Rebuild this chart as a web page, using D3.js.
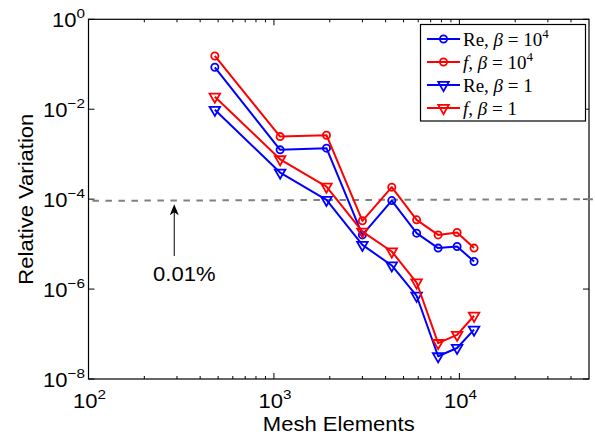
<!DOCTYPE html>
<html>
<head>
<meta charset="utf-8">
<script src="https://cdn.jsdelivr.net/npm/d3@7"></script>
<style>
  html, body { margin: 0; padding: 0; background: #fff; }
  svg { display: block; }
  .sans { font-family: "Liberation Sans", Arial, Helvetica, sans-serif; }
  .serif { font-family: "Liberation Serif", "Times New Roman", serif; }
</style>
</head>
<body>
<svg id="chart" width="595" height="439"></svg>
<script>
// Mesh sizes and relative variation of the computed quantities
const meshElements = [480, 1080, 1920, 3000, 4320, 5880, 7680, 9720, 12000];
const reBeta1e4 = [0.0857, 0.00125, 0.00136, 1.6e-5, 9.3e-5, 1.75e-5, 8.15e-6, 8.85e-6, 4.1e-6];
const fBeta1e4  = [0.153, 0.00246, 0.00264, 3.3e-5, 1.85e-4, 3.47e-5, 1.6e-5, 1.81e-5, 8.15e-6];
const reBeta1   = [0.0097, 3.9e-4, 9.6e-5, 9.6e-6, 3.35e-6, 7.1e-7, 3.2e-8, 4.9e-8, 1.25e-7];
const fBeta1    = [0.019, 7.7e-4, 1.9e-4, 1.9e-5, 6.85e-6, 1.4e-6, 6.3e-8, 9.6e-8, 2.55e-7];

// 0.01% threshold line
const thresholdX = [105, 60000];
const thresholdY = [9.2e-5, 1.0e-4];

const xTickExponents = [2, 3, 4];
const yTickExponents = [0, -2, -4, -6, -8];

const series = [
  { name: "Re", beta: "10", betaExp: "4", values: reBeta1e4, color: "#0000ff", marker: "circle" },
  { name: "f",  beta: "10", betaExp: "4", values: fBeta1e4,  color: "#ff0000", marker: "circle" },
  { name: "Re", beta: "1",  betaExp: "",  values: reBeta1,   color: "#0000ff", marker: "triangle" },
  { name: "f",  beta: "1",  betaExp: "",  values: fBeta1,    color: "#ff0000", marker: "triangle" }
];

const svg = d3.select("#chart");
const plotLeft = 88.5, plotRight = 589, plotTop = 19.3, plotBottom = 379;
const fontSize = 19.5, supSize = 13.5, stretch = 1.13;

const x = d3.scaleLog().domain([100, 50000]).range([plotLeft, plotRight]);
const y = d3.scaleLog().domain([1e-8, 1]).range([plotBottom, plotTop]);

// Text placed at (px, py), slightly widened like the figure's lettering
const wideText = (parent, px, py, anchor, rotate) => {
  const g = parent.append("g")
    .attr("transform", `translate(${px},${py})` + (rotate ? ` rotate(${rotate})` : "") + ` scale(${stretch},1)`);
  return g.append("text").attr("class", "sans")
    .attr("text-anchor", anchor).attr("font-size", fontSize);
};

// Ticks (pointing inward on all four sides)
const ticks = svg.append("g").attr("stroke", "#000").attr("stroke-width", 1);
const majorLen = 6, minorLen = 3;
const xMinor = [];
for (let e = 2; e <= 4; e++) for (let m = 2; m <= 9; m++) {
  const v = m * Math.pow(10, e);
  if (v < 50000) xMinor.push(v);
}
xTickExponents.forEach(e => {
  const px = x(Math.pow(10, e));
  ticks.append("line").attr("x1", px).attr("x2", px).attr("y1", plotBottom).attr("y2", plotBottom - majorLen);
  ticks.append("line").attr("x1", px).attr("x2", px).attr("y1", plotTop).attr("y2", plotTop + majorLen);
});
xMinor.forEach(v => {
  const px = x(v);
  ticks.append("line").attr("x1", px).attr("x2", px).attr("y1", plotBottom).attr("y2", plotBottom - minorLen);
  ticks.append("line").attr("x1", px).attr("x2", px).attr("y1", plotTop).attr("y2", plotTop + minorLen);
});
yTickExponents.forEach(e => {
  const py = y(Math.pow(10, e));
  ticks.append("line").attr("x1", plotLeft).attr("x2", plotLeft + majorLen).attr("y1", py).attr("y2", py);
  ticks.append("line").attr("x1", plotRight).attr("x2", plotRight - majorLen).attr("y1", py).attr("y2", py);
});

// Box
svg.append("rect")
  .attr("x", plotLeft).attr("y", plotTop)
  .attr("width", plotRight - plotLeft).attr("height", plotBottom - plotTop)
  .attr("fill", "none").attr("stroke", "#000").attr("stroke-width", 1.2);

// Tick labels
const fmtExp = e => (e < 0 ? "\u2212" + Math.abs(e) : String(e));
const xLabels = svg.append("g");
xTickExponents.forEach(e => {
  const t = wideText(xLabels, x(Math.pow(10, e)) + 1, 408, "middle");
  t.append("tspan").text("10");
  t.append("tspan").attr("dy", -9).attr("font-size", supSize).text(fmtExp(e));
});
const yLabels = svg.append("g");
yTickExponents.forEach(e => {
  const t = wideText(yLabels, 85, y(Math.pow(10, e)) + 8, "end");
  t.append("tspan").text("10");
  t.append("tspan").attr("dy", -9).attr("font-size", supSize).text(fmtExp(e));
});

// Axis titles
wideText(svg, (plotLeft + plotRight) / 2, 431, "middle").text("Mesh Elements");
wideText(svg, 33, (plotTop + plotBottom) / 2, "middle", -90).text("Relative Variation");

// Threshold line
svg.append("line")
  .attr("x1", x(thresholdX[0])).attr("x2", x(thresholdX[1]))
  .attr("y1", y(thresholdY[0])).attr("y2", y(thresholdY[1]))
  .attr("stroke", "#808080").attr("stroke-width", 2)
  .attr("stroke-dasharray", "6.5,6.5");

// Annotation arrow and label
const arrowX = x(290);
const arrowTip = y(9.0e-5) + 3;
svg.append("line")
  .attr("x1", arrowX).attr("x2", arrowX)
  .attr("y1", 256).attr("y2", arrowTip + 6)
  .attr("stroke", "#000").attr("stroke-width", 1);
svg.append("path")
  .attr("d", `M${arrowX},${arrowTip} L${arrowX - 4.5},${arrowTip + 11} L${arrowX},${arrowTip + 8} L${arrowX + 4.5},${arrowTip + 11} Z`)
  .attr("fill", "#000");
wideText(svg, arrowX + 10, 281, "middle").text("0.01%");

// Series
const line = d3.line().x((d, i) => x(meshElements[i])).y(d => y(d));
const triangle = d3.symbol().type(d3.symbolTriangle).size(48);
const drawMarker = (g, marker, color, cx, cy) => {
  if (marker === "circle") {
    g.append("circle").attr("cx", cx).attr("cy", cy).attr("r", 3.6)
      .attr("fill", "none").attr("stroke", color).attr("stroke-width", 1.8);
  } else {
    g.append("path").attr("d", triangle())
      .attr("transform", `translate(${cx},${cy}) rotate(180)`)
      .attr("fill", "none").attr("stroke", color).attr("stroke-width", 1.8);
  }
};
series.forEach(s => {
  const g = svg.append("g");
  g.append("path").datum(s.values).attr("d", line)
    .attr("fill", "none").attr("stroke", s.color).attr("stroke-width", 2)
    .attr("stroke-linejoin", "round");
  s.values.forEach((v, i) => drawMarker(g, s.marker, s.color, x(meshElements[i]), y(v)));
});

// Legend
const legend = svg.append("g");
legend.append("rect")
  .attr("x", 420.5).attr("y", 24.5).attr("width", 165).attr("height", 96.5)
  .attr("fill", "#fff").attr("stroke", "#000").attr("stroke-width", 1.2);
series.forEach((s, i) => {
  const cy = 39 + i * 23;
  legend.append("line").attr("x1", 427).attr("x2", 460).attr("y1", cy).attr("y2", cy)
    .attr("stroke", s.color).attr("stroke-width", 2);
  drawMarker(legend, s.marker, s.color, 443.5, cy);
  const t = legend.append("text").attr("class", "serif")
    .attr("x", 463).attr("y", cy + 6.5).attr("font-size", 19);
  if (s.name === "f") t.append("tspan").attr("font-style", "italic").text("f");
  else t.append("tspan").text(s.name);
  t.append("tspan").text(", ");
  t.append("tspan").attr("font-style", "italic").text("\u03b2");
  t.append("tspan").text(" = " + s.beta);
  if (s.betaExp) t.append("tspan").attr("dy", -8).attr("font-size", 13).text(s.betaExp);
});
</script>
</body>
</html>
